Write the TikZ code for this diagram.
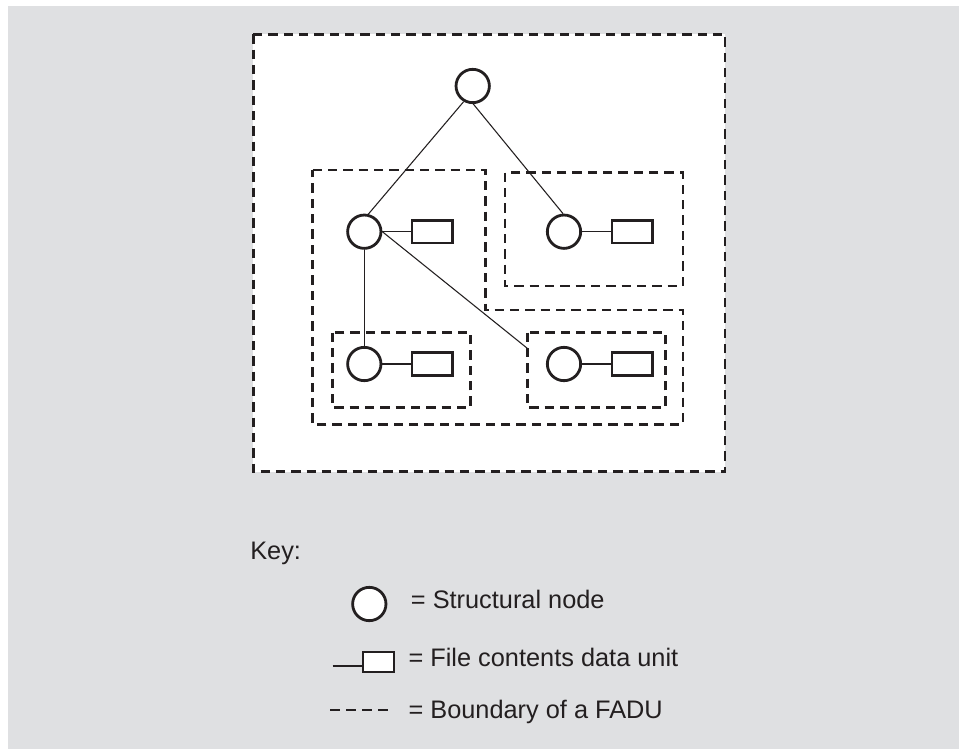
\documentclass[tikz,border=0pt]{standalone}
\usepackage{fontspec}
\setmainfont{Liberation Sans}
\usepackage{tikz}

\definecolor{bggray}{RGB}{223,224,226}
\definecolor{ink}{RGB}{35,31,32}

\tikzset{
  snode/.style={draw=ink, circle, line width=2.1pt, fill=white, minimum size=25pt, inner sep=0pt},
  cdu/.style={draw=ink, rectangle, line width=1.9pt, fill=white, minimum width=30.4pt, minimum height=16.9pt, inner sep=0pt},
  fadu/.style={draw=ink, line width=2.2pt, dash pattern=on 7pt off 4.5pt},
  link/.style={draw=ink, line width=0.8pt},
  keytext/.style={anchor=base west, inner sep=0pt, text=ink, font=\fontsize{19}{23}\selectfont},
}

\begin{document}
\begin{tikzpicture}[x=0.75pt,y=0.75pt,yscale=-1,xscale=1]
\useasboundingbox (0,0) rectangle (959,749);

% background panel
\fill[bggray] (8,6) rectangle (959,749);

% FADU boundaries
\draw[fadu, fill=white] (253.3,34.3) rectangle (725,471.7);
\draw[fadu] (312.7,170) -- (485.7,170) -- (485.7,310) -- (683,310) -- (683,424.3) -- (312.7,424.3) -- cycle;
\draw[fadu] (505,172.7) rectangle (683,286);
\draw[fadu] (332.3,332.7) rectangle (470.7,407.3);
\draw[fadu] (527.3,332.7) rectangle (665.7,407.3);

% structural nodes
\node[snode] (root) at (472.7,86) {};
\node[snode] (left) at (364.3,231.7) {};
\node[snode] (right) at (564,231.7) {};
\node[snode] (lowl) at (364.3,364) {};
\node[snode] (lowr) at (564,364) {};

% file contents data units
\node[cdu] (leftdu) at (432.3,231.7) {};
\node[cdu] (rightdu) at (632.2,231.7) {};
\node[cdu] (lowldu) at (432.3,364) {};
\node[cdu] (lowrdu) at (632.2,364) {};

\coordinate (lowrin) at (527.3,348.3);

% tree links
\draw[link] (root.-120) -- (left.77);
\draw[link] (root.-88) -- (right.93);
\draw[link] (left.south) -- (lowl.north);
\draw[link] (left.east) -- (lowrin);

\draw[link] (left) -- (leftdu);
\draw[link] (right) -- (rightdu);
\draw[link] (lowl) -- (lowldu);
\draw[link] (lowr) -- (lowrdu);

% Key
\node[keytext] (keylabel) at (250,559) {Key:};

\node[snode] (keynode) at (369.3,604) {};
\node[keytext] (keysn) at (410.7,608) {= Structural node};

\node[cdu, minimum width=23.4pt, minimum height=15.4pt, line width=1.6pt] (keydu) at (378.3,662) {};
\coordinate (keystub) at (332.7,665.7);
\draw[link, line width=1.4pt] (keystub) -- (keystub -| keydu.west);
\node[keytext] (keyfcdu) at (408.3,666.7) {= File contents data unit};

\coordinate (keydashl) at (330,710);
\coordinate (keydashr) at (388.3,710);
\draw[fadu, line width=1.4pt, dash pattern=on 7.5pt off 4.5pt] (keydashl) -- (keydashr);
\node[keytext] (keyfadu) at (408.3,718) {= Boundary of a FADU};

\end{tikzpicture}
\end{document}
